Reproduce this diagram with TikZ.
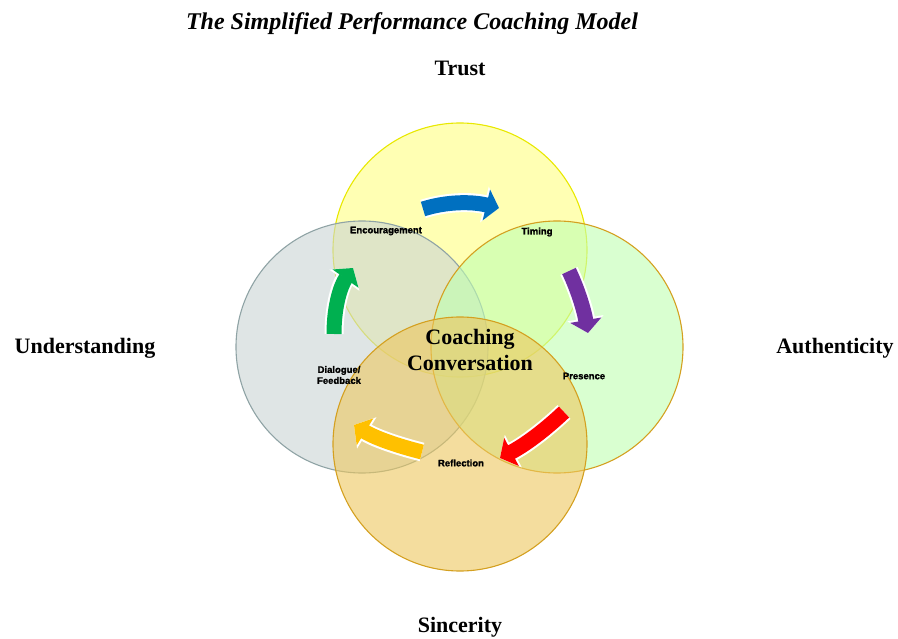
\documentclass[tikz,border=0pt]{standalone}
\usepackage{fontspec}
\setmainfont{Liberation Serif}
\newfontfamily\lsans[FakeBold=1.5]{Liberation Sans}
\usetikzlibrary{arrows.meta}
\definecolor{cyel}{HTML}{FFFF80}
\definecolor{cyelb}{HTML}{E8E800}
\definecolor{cgry}{HTML}{CAD4D4}
\definecolor{cgryb}{HTML}{8FA3A5}
\definecolor{cgrn}{HTML}{C0FFB1}
\definecolor{cgold}{HTML}{D4A020}
\definecolor{corg}{HTML}{EDC75E}
\definecolor{ablue}{HTML}{0070C0}
\definecolor{apurple}{HTML}{7030A0}
\definecolor{ared}{HTML}{FF0000}
\definecolor{aorange}{HTML}{FFC000}
\definecolor{agreen}{HTML}{00B050}
\tikzset{
  circ/.style={line width=1.1pt, fill opacity=0.6},
  biglabel/.style={font=\fontsize{22}{26}\selectfont\bfseries},
  smalllabel/.style={font=\lsans\fontsize{9.5}{11}\selectfont\bfseries, align=center, inner sep=0pt},
  arrowback/.style={white, line width=19pt, -{Triangle[length=15pt,width=36pt]}},
  arrowfront/.style={line width=15pt, -{Triangle[length=13pt,width=31pt]}},
}
\begin{document}
\begin{tikzpicture}[x=1pt,y=-1pt]
\useasboundingbox (0,0) rectangle (898,639);
% circles
\draw[circ, draw=cyelb, fill=cyel] (460,250) circle (127);
\draw[circ, draw=cgryb, fill=cgry] (362,347) circle (126);
\draw[circ, draw=cgold, fill=cgrn] (557,347) circle (126);
\draw[circ, draw=cgold, fill=corg] (460,444) circle (127);
% titles
\node[font=\fontsize{24}{28}\selectfont\bfseries\itshape] (title) at (412,24) {The Simplified Performance Coaching Model};
\node[biglabel] (trust) at (460,68) {Trust};
\node[biglabel] (underst) at (85,348) {Understanding};
\node[biglabel] (auth) at (835,348) {Authenticity};
\node[biglabel] (sinc) at (460,627) {Sincerity};
\node[biglabel, align=center] (center) at (470,350) {Coaching\\Conversation};
% small labels
\node[smalllabel] (enc) at (386,231) {Encouragement};
\node[smalllabel] (tim) at (537,232) {Timing};
\node[smalllabel] (pres) at (584,376) {Presence};
\node[smalllabel] (refl) at (461,463) {Reflection};
\node[smalllabel] (dial) at (339,375) {Dialogue/\\Feedback};
% arrow coordinates
\coordinate (b1) at (423,209); \coordinate (b2) at (499,208);
\coordinate (p1) at (569,271); \coordinate (p2) at (588,333);
\coordinate (r1) at (564,412); \coordinate (r2) at (500,458);
\coordinate (o1) at (422,452); \coordinate (o2) at (354,425);
\coordinate (g1) at (334,334); \coordinate (g2) at (353,268);
% arrows
\foreach \s/\e/\ca/\cb/\col in {b1/b2/{(445,202)}/{(470,201)}/ablue, p1/p2/{(578,290)}/{(584,310)}/apurple, r1/r2/{(545,430)}/{(525,445)}/ared, o1/o2/{(398,446)}/{(375,438)}/aorange, g1/g2/{(334,305)}/{(341,285)}/agreen}{
  \draw[arrowback] (\s) .. controls \ca and \cb .. (\e);
  \draw[arrowfront, draw=\col, fill=\col] (\s) .. controls \ca and \cb .. (\e);
}
\end{tikzpicture}
\end{document}
